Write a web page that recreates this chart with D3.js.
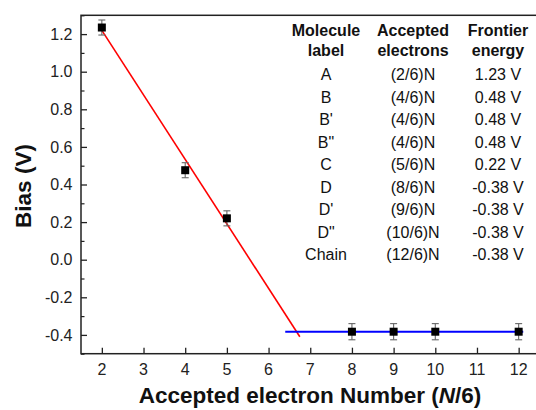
<!DOCTYPE html>
<html>
<head>
<meta charset="utf-8">
<script src="https://cdn.jsdelivr.net/npm/d3@7"></script>
<style>
  body { margin: 0; background: #fff; }
  text { font-family: "Liberation Sans", Arial, sans-serif; }
</style>
</head>
<body>
<div id="chart"></div>
<script>
// measured points: accepted electron number (N/6) vs bias
const electrons = [2, 4, 5, 8, 9, 10, 12]
const bias = [1.235, 0.476, 0.22, -0.383, -0.383, -0.383, -0.383]
const biasErr = [0.04, 0.04, 0.04, 0.043, 0.043, 0.043, 0.043]

// fitted lines
const redFitX = [2, 6.75]
const redFitY = [1.22, -0.41]
const blueFitX = [6.4, 12.11]
const blueFitY = [-0.383, -0.383]

const xTicks = [2, 3, 4, 5, 6, 7, 8, 9, 10, 11, 12]
const yTicks = [-0.4, -0.2, 0.0, 0.2, 0.4, 0.6, 0.8, 1.0, 1.2]
const yMinorTicks = [-0.5, -0.3, -0.1, 0.1, 0.3, 0.5, 0.7, 0.9, 1.1, 1.3]

// inset table
const tableHeader = [["Molecule", "Accepted", "Frontier"], ["label", "electrons", "energy"]]
const moleculeLabels = ["A", "B", "B'", "B\"", "C", "D", "D'", "D\"", "Chain"]
const acceptedLabels = ["(2/6)N", "(4/6)N", "(4/6)N", "(4/6)N", "(5/6)N", "(8/6)N", "(9/6)N", "(10/6)N", "(12/6)N"]
const energyLabels = ["1.23 V", "0.48 V", "0.48 V", "0.48 V", "0.22 V", "-0.38 V", "-0.38 V", "-0.38 V", "-0.38 V"]

const width = 536, height = 410
const margin = {top: 15.3, left: 81, bottom: 56.3}
const plotRight = 539.5

const x = d3.scaleLinear().domain([1.5, 12.5]).range([margin.left, plotRight])
const y = d3.scaleLinear().domain([-0.5, 1.3]).range([height - margin.bottom, margin.top])

const svg = d3.select("#chart").append("svg")
    .attr("width", width)
    .attr("height", height)

// frame
svg.append("rect")
    .attr("x", x(1.5))
    .attr("y", y(1.3))
    .attr("width", x(12.5) - x(1.5))
    .attr("height", y(-0.5) - y(1.3))
    .style("fill", "none")
    .style("stroke", "#222")
    .style("stroke-width", 1.5)

// x axis, inward ticks
const xAxis = svg.append("g")
    .attr("transform", "translate(0," + y(-0.5) + ")")
    .call(d3.axisTop(x).tickValues(xTicks).tickSize(6).tickFormat(""))
xAxis.select(".domain").remove()
xAxis.selectAll(".tick line").style("stroke", "#222").style("stroke-width", 1.3)

svg.append("g").selectAll("text")
    .data(xTicks)
  .enter().append("text")
    .attr("x", d => x(d))
    .attr("y", y(-0.5) + 21.5)
    .attr("text-anchor", "middle")
    .style("font-size", "16px")
    .style("fill", "#222")
    .text(d => d)

// y axis, inward ticks
const yAxis = svg.append("g")
    .attr("transform", "translate(" + x(1.5) + ",0)")
    .call(d3.axisRight(y).tickValues(yTicks).tickSize(6).tickFormat(""))
yAxis.select(".domain").remove()
yAxis.selectAll(".tick line").style("stroke", "#222").style("stroke-width", 1.3)

const yMinor = svg.append("g")
    .attr("transform", "translate(" + x(1.5) + ",0)")
    .call(d3.axisRight(y).tickValues(yMinorTicks).tickSize(3.5).tickFormat(""))
yMinor.select(".domain").remove()
yMinor.selectAll(".tick line").style("stroke", "#222").style("stroke-width", 1.2)

svg.append("g").selectAll("text")
    .data(yTicks)
  .enter().append("text")
    .attr("x", x(1.5) - 8.5)
    .attr("y", d => y(d) + 5.7)
    .attr("text-anchor", "end")
    .style("font-size", "16px")
    .style("fill", "#222")
    .text(d => d.toFixed(1))   // plain hyphen minus like the original

// axis titles
svg.append("text")
    .attr("x", 310)
    .attr("y", 403)
    .attr("text-anchor", "middle")
    .style("font-size", "22.5px")
    .style("font-weight", "bold")
    .style("fill", "#111")
    .html("Accepted electron Number (<tspan font-style='italic'>N</tspan>/6)")

svg.append("text")
    .attr("transform", "translate(31," + 186 + ") rotate(-90)")
    .attr("text-anchor", "middle")
    .style("font-size", "22.5px")
    .style("font-weight", "bold")
    .style("fill", "#111")
    .text("Bias (V)")

// fit lines
const line = d3.line().x(d => x(d[0])).y(d => y(d[1]))

svg.append("path")
    .datum(redFitX.map((d, i) => [d, redFitY[i]]))
    .attr("d", line)
    .style("fill", "none")
    .style("stroke", "#ff0000")
    .style("stroke-width", 1.6)

svg.append("path")
    .datum(blueFitX.map((d, i) => [d, blueFitY[i]]))
    .attr("d", line)
    .style("fill", "none")
    .style("stroke", "#0000ff")
    .style("stroke-width", 2)

// error bars
const points = electrons.map((d, i) => ({x: d, y: bias[i], e: biasErr[i]}))
const err = svg.append("g").selectAll("g")
    .data(points)
  .enter().append("g")
    .style("stroke", "#666")
    .style("stroke-width", 1.1)

err.append("line")
    .attr("x1", d => x(d.x)).attr("x2", d => x(d.x))
    .attr("y1", d => y(d.y + d.e)).attr("y2", d => y(d.y - d.e))
err.append("line")
    .attr("x1", d => x(d.x) - 3.5).attr("x2", d => x(d.x) + 3.5)
    .attr("y1", d => y(d.y + d.e)).attr("y2", d => y(d.y + d.e))
err.append("line")
    .attr("x1", d => x(d.x) - 3.5).attr("x2", d => x(d.x) + 3.5)
    .attr("y1", d => y(d.y - d.e)).attr("y2", d => y(d.y - d.e))

// markers
svg.append("g").selectAll("rect")
    .data(points)
  .enter().append("rect")
    .attr("x", d => x(d.x) - 4)
    .attr("y", d => y(d.y) - 4)
    .attr("width", 8)
    .attr("height", 8)
    .style("fill", "#000")

// table
const colX = [326, 413, 498]
const headerY = [35.7, 55.5]
const rowY0 = 80, rowStep = 22.5

const table = svg.append("g")
    .attr("text-anchor", "middle")
    .style("font-size", "16px")
    .style("fill", "#111")

tableHeader.forEach((row, r) => {
  row.forEach((t, c) => {
    table.append("text")
        .attr("x", colX[c])
        .attr("y", headerY[r])
        .style("font-weight", "bold")
        .text(t)
  })
})

const cols = [moleculeLabels, acceptedLabels, energyLabels]
cols.forEach((col, c) => {
  table.append("g").selectAll("text")
      .data(col)
    .enter().append("text")
      .attr("x", colX[c])
      .attr("y", (d, i) => rowY0 + i * rowStep)
      .text(d => d)
})
</script>
</body>
</html>
